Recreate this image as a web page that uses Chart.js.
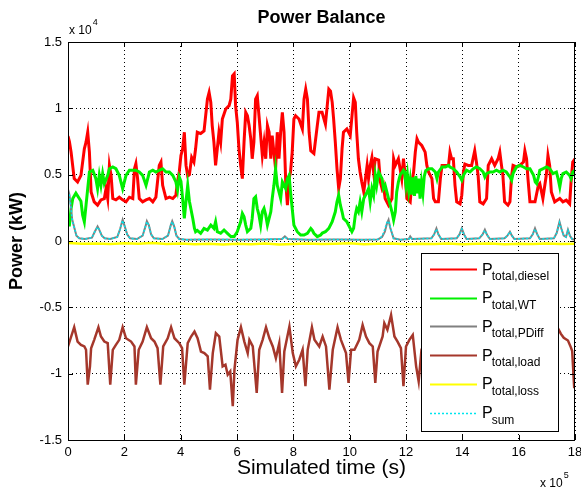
<!DOCTYPE html>
<html><head><meta charset="utf-8">
<script src="https://cdn.jsdelivr.net/npm/chart.js@4.4.1/dist/chart.umd.min.js"></script>
<style>html,body{margin:0;padding:0;background:#fff}#wrap{position:relative;width:581px;height:489px}</style>
</head><body><div id="wrap"><canvas id="c" width="581" height="489"></canvas></div>
<script>
// time in units of 1e5 s, power in kW
const dieselData = [[0,7900],[0.05,7500],[0.11,6700],[0.22,4700],[0.34,4450],[0.46,4950],[0.58,6950],[0.64,7450],[0.70,8200],[0.76,6700],[0.82,3700],[0.93,2950],[1.05,2700],[1.17,3100],[1.29,3200],[1.35,3950],[1.41,3200],[1.47,5700],[1.53,4950],[1.59,3200],[1.70,3100],[1.82,3300],[1.94,3100],[2.06,2950],[2.18,3300],[2.30,3200],[2.36,5450],[2.41,5830],[2.47,4700],[2.53,3200],[2.65,2950],[2.77,3100],[2.89,3200],[3.01,2950],[3.12,3300],[3.24,5700],[3.30,5950],[3.36,4200],[3.48,3200],[3.60,3300],[3.72,3200],[3.83,3450],[3.89,4500],[3.95,5200],[4.01,6450],[4.07,6950],[4.13,8200],[4.19,5700],[4.25,4900],[4.31,5000],[4.39,6300],[4.47,5950],[4.53,6950],[4.59,8200],[4.71,8100],[4.83,8300],[4.95,10700],[5.01,11200],[5.07,10450],[5.12,8700],[5.18,7450],[5.24,5700],[5.30,6950],[5.36,8200],[5.42,7450],[5.48,9200],[5.60,9950],[5.72,10200],[5.78,10700],[5.84,12450],[5.90,12600],[5.95,10200],[6.01,8950],[6.07,6950],[6.13,5700],[6.19,4700],[6.25,7450],[6.31,9700],[6.37,9450],[6.43,8700],[6.49,7700],[6.54,6200],[6.60,7450],[6.66,10700],[6.72,10950],[6.78,9450],[6.84,7950],[6.90,6450],[6.96,7450],[7.02,6200],[7.08,8700],[7.14,8200],[7.20,6200],[7.25,7950],[7.31,6700],[7.37,5450],[7.43,8200],[7.49,6200],[7.55,8200],[7.61,9700],[7.67,8200],[7.73,4450],[7.79,2700],[7.85,4700],[7.90,5200],[7.96,6700],[8.02,9200],[8.08,9450],[8.20,9200],[8.32,8450],[8.38,10700],[8.44,11450],[8.50,10700],[8.56,8200],[8.62,6800],[8.73,6600],[8.85,8700],[8.91,9700],[9.02,9700],[9.14,8800],[9.26,11450],[9.32,11300],[9.38,10450],[9.43,9200],[9.49,7450],[9.55,5450],[9.61,3950],[9.67,4700],[9.73,6950],[9.78,8200],[9.90,8450],[10.02,7950],[10.14,10800],[10.20,10450],[10.25,8200],[10.31,6200],[10.37,5200],[10.43,4450],[10.50,3700],[10.56,4700],[10.62,5700],[10.67,4700],[10.73,5700],[10.79,6300],[10.85,5200],[10.91,6200],[11.03,6100],[11.09,4450],[11.15,3950],[11.20,4200],[11.26,3200],[11.38,2700],[11.50,3200],[11.56,6200],[11.62,5700],[11.73,6200],[11.85,4700],[11.91,6200],[11.97,4950],[12.03,3200],[12.15,2950],[12.21,4450],[12.27,5200],[12.33,6700],[12.39,7700],[12.44,7450],[12.56,7200],[12.68,6700],[12.74,5700],[12.80,5200],[12.92,4700],[12.98,3200],[13.04,2950],[13.15,2950],[13.22,4700],[13.28,5700],[13.40,5700],[13.51,5700],[13.56,6700],[13.62,6200],[13.68,6200],[13.74,4200],[13.80,2950],[13.92,2800],[13.98,3450],[14.04,5200],[14.09,5800],[14.21,5700],[14.33,5700],[14.44,6800],[14.50,5950],[14.56,4950],[14.62,2950],[14.74,2800],[14.86,3200],[14.92,5700],[15.04,6200],[15.15,5700],[15.27,6200],[15.33,6700],[15.39,5700],[15.44,4950],[15.50,2950],[15.62,2700],[15.69,2950],[15.75,4950],[15.80,5700],[15.92,5580],[16.04,5700],[16.17,5950],[16.22,6800],[16.28,6200],[16.33,4700],[16.40,2950],[16.58,2950],[16.70,4200],[16.75,4330],[16.86,3200],[16.98,4950],[17.04,6450],[17.10,5700],[17.16,3700],[17.28,2950],[17.46,3200],[17.57,2950],[17.69,3080],[17.81,2800],[17.86,4450],[17.92,5950],[18.0,6200]];

const windData = [[0,1200],[0.05,1200],[0.11,2450],[0.17,3200],[0.28,3600],[0.40,3200],[0.46,3000],[0.52,1950],[0.58,1450],[0.64,2700],[0.70,3950],[0.76,5200],[0.88,5330],[0.99,4700],[1.05,3950],[1.11,4950],[1.17,4200],[1.23,5080],[1.29,4330],[1.41,4950],[1.47,5450],[1.59,5580],[1.70,5450],[1.82,4950],[1.94,3950],[2.06,4950],[2.18,5330],[2.30,5330],[2.41,5330],[2.53,5200],[2.65,4950],[2.77,4200],[2.89,5200],[3.01,5330],[3.12,5200],[3.24,5330],[3.36,5450],[3.48,5200],[3.60,5200],[3.72,4950],[3.83,4450],[3.89,3830],[3.95,4830],[4.01,4500],[4.07,3200],[4.13,1700],[4.19,3000],[4.25,4200],[4.31,3000],[4.43,1700],[4.49,950],[4.53,700],[4.59,800],[4.71,580],[4.83,950],[4.95,830],[5.07,1200],[5.18,950],[5.24,1450],[5.30,700],[5.42,580],[5.54,830],[5.66,580],[5.78,330],[5.90,330],[6.01,700],[6.13,1450],[6.19,2080],[6.25,1830],[6.31,1200],[6.37,700],[6.49,950],[6.54,1700],[6.60,3200],[6.66,3330],[6.72,2450],[6.78,1950],[6.84,1200],[6.90,2200],[6.96,2450],[7.02,1950],[7.08,1200],[7.14,1700],[7.20,2200],[7.25,3200],[7.31,4200],[7.37,5450],[7.43,4200],[7.49,3700],[7.55,3200],[7.61,4450],[7.67,4200],[7.73,3950],[7.79,4700],[7.85,4950],[7.90,3700],[7.96,2450],[8.02,1200],[8.14,700],[8.26,450],[8.38,450],[8.50,580],[8.62,950],[8.67,830],[8.73,580],[8.85,330],[8.97,450],[9.03,600],[9.14,700],[9.26,950],[9.38,1450],[9.49,2200],[9.55,2950],[9.61,3450],[9.67,2700],[9.73,2200],[9.78,1700],[9.90,1450],[10.02,950],[10.08,700],[10.14,950],[10.20,1950],[10.25,2450],[10.31,2200],[10.37,2950],[10.43,2200],[10.50,3200],[10.56,3450],[10.62,3700],[10.67,3950],[10.73,2950],[10.79,3950],[10.85,3450],[10.91,4950],[10.96,4200],[11.03,5200],[11.09,4950],[11.15,4700],[11.20,3950],[11.26,4200],[11.32,3700],[11.38,3200],[11.44,2700],[11.50,2200],[11.56,1580],[11.62,2200],[11.67,3700],[11.73,4450],[11.79,4950],[11.91,5330],[11.95,5200],[12.00,4200],[12.05,5000],[12.10,3800],[12.15,4600],[12.20,3500],[12.25,4800],[12.30,3400],[12.35,4900],[12.40,3600],[12.45,4700],[12.50,3200],[12.55,4400],[12.60,3600],[12.65,4900],[12.70,5300],[12.80,5450],[12.92,5450],[13.04,5200],[13.10,4700],[13.15,5200],[13.28,5580],[13.40,5580],[13.51,5700],[13.56,5580],[13.68,5450],[13.80,5200],[13.92,4830],[13.98,4580],[14.04,4950],[14.15,5330],[14.27,5200],[14.39,5450],[14.50,5580],[14.62,5450],[14.74,5200],[14.80,4830],[14.86,5080],[14.98,5200],[15.09,5200],[15.21,5330],[15.33,5200],[15.44,5330],[15.56,5200],[15.69,4830],[15.75,4580],[15.80,5080],[15.92,5580],[16.04,5700],[16.17,5580],[16.28,5450],[16.40,5450],[16.53,4950],[16.59,4450],[16.64,4330],[16.70,4830],[16.75,5330],[16.87,5450],[16.99,5580],[17.10,5450],[17.22,5080],[17.34,5200],[17.40,4700],[17.46,4080],[17.51,4700],[17.57,5080],[17.69,5200],[17.81,4950],[17.86,4700],[17.92,5200],[18.0,5330]];

const pdiffData = [[0,3900],[0.05,3500],[0.1,2600],[0.15,1600],[0.2,1200],[0.25,800],[0.3,400],[0.4,200],[0.6,150],[0.85,250],[0.95,700],[1.05,1100],[1.1,900],[1.2,400],[1.3,200],[1.5,150],[1.75,300],[1.85,900],[1.94,1600],[2.0,1200],[2.1,500],[2.2,200],[2.45,150],[2.65,400],[2.75,1100],[2.8,1500],[2.87,1200],[2.95,500],[3.05,200],[3.35,150],[3.55,400],[3.65,1200],[3.7,1500],[3.77,1100],[3.85,400],[3.95,150],[4.2,100],[5.0,120],[6.0,100],[7.0,120],[7.6,150],[7.7,350],[7.8,150],[8.5,100],[9.5,110],[10.5,100],[11.0,120],[11.15,300],[11.25,700],[11.32,1300],[11.38,1600],[11.44,1000],[11.5,600],[11.56,200],[11.8,100],[12.1,150],[12.15,350],[12.22,150],[12.9,200],[13.0,500],[13.08,950],[13.15,500],[13.25,150],[13.8,200],[13.9,500],[13.98,950],[14.06,500],[14.15,150],[14.6,200],[14.72,500],[14.8,850],[14.88,450],[14.98,150],[15.5,200],[15.6,400],[15.69,700],[15.76,400],[15.85,150],[16.4,200],[16.5,500],[16.58,950],[16.66,500],[16.75,150],[17.25,200],[17.35,600],[17.45,1450],[17.52,900],[17.6,400],[17.68,300],[17.75,850],[17.82,400],[17.9,150],[18.0,100]];

const loadData = [[0,-7950],[0.22,-6500],[0.34,-7580],[0.46,-7830],[0.58,-7950],[0.64,-8200],[0.70,-10830],[0.78,-9450],[0.82,-8080],[0.93,-7450],[1.08,-6500],[1.17,-7200],[1.29,-7580],[1.41,-7700],[1.50,-10830],[1.59,-8200],[1.70,-7830],[1.82,-7450],[1.94,-6500],[2.06,-7330],[2.24,-7580],[2.36,-7950],[2.41,-10830],[2.51,-8200],[2.65,-7580],[2.80,-6500],[2.95,-7330],[3.07,-7580],[3.18,-8080],[3.28,-10830],[3.38,-7950],[3.54,-7330],[3.66,-6500],[3.78,-7330],[3.95,-7700],[4.05,-8080],[4.13,-10830],[4.25,-7700],[4.37,-7200],[4.49,-6830],[4.60,-7330],[4.72,-8330],[4.84,-8450],[4.96,-8700],[5.04,-11200],[5.14,-8450],[5.25,-6950],[5.37,-7200],[5.49,-9450],[5.59,-9330],[5.67,-10080],[5.76,-9830],[5.85,-12450],[5.91,-9700],[6.02,-7450],[6.14,-6500],[6.26,-7580],[6.38,-8450],[6.44,-7450],[6.56,-7950],[6.70,-11450],[6.79,-8200],[6.91,-7450],[7.03,-6500],[7.15,-7330],[7.27,-7950],[7.38,-8830],[7.50,-7700],[7.60,-11450],[7.68,-8330],[7.86,-6450],[7.98,-8450],[8.09,-9450],[8.21,-8950],[8.33,-8200],[8.43,-10950],[8.51,-8200],[8.66,-6500],[8.75,-7450],[8.92,-7950],[9.04,-7200],[9.16,-7950],[9.28,-11200],[9.40,-8200],[9.57,-6500],[9.69,-7450],[9.87,-8450],[9.96,-10700],[10.05,-8200],[10.17,-8200],[10.34,-7450],[10.46,-6330],[10.58,-7200],[10.70,-7700],[10.82,-7950],[10.91,-10700],[10.99,-8330],[11.17,-7200],[11.23,-6200],[11.34,-6700],[11.47,-5580],[11.59,-7200],[11.70,-7580],[11.82,-8080],[11.91,-10950],[12.00,-7950],[12.12,-7450],[12.24,-7080],[12.36,-9450],[12.45,-10580],[12.55,-8200],[12.70,-7500],[12.85,-6500],[13.0,-7400],[13.2,-7900],[13.3,-10800],[13.4,-8100],[13.6,-7400],[13.7,-6500],[13.9,-7500],[14.1,-7900],[14.15,-10800],[14.25,-8000],[14.45,-7400],[14.55,-6500],[14.75,-7400],[14.95,-7900],[15.0,-10800],[15.1,-8000],[15.3,-7400],[15.4,-6500],[15.6,-7400],[15.8,-7900],[15.85,-10800],[15.95,-8000],[16.15,-7400],[16.25,-6500],[16.45,-7400],[16.65,-7900],[16.7,-10800],[16.8,-8000],[17.0,-7400],[17.1,-6500],[17.3,-7200],[17.4,-6600],[17.5,-7000],[17.6,-7300],[17.75,-7500],[17.85,-8000],[17.9,-8300],[17.97,-11000],[18.0,-11000]];

const lossData = [[0,-150],[0.5,-200],[1,-180],[1.5,-230],[2,-170],[2.5,-210],[3,-160],[3.5,-220],[4,-190],[4.5,-250],[5,-200],[5.5,-270],[6,-210],[6.5,-240],[7,-190],[7.5,-260],[8,-220],[8.5,-180],[9,-230],[9.5,-200],[10,-170],[10.5,-240],[11,-210],[11.5,-190],[12,-250],[12.5,-200],[13,-230],[13.5,-180],[14,-240],[14.5,-210],[15,-190],[15.5,-250],[16,-200],[16.5,-230],[17,-180],[17.5,-220],[18,-200]];

const sumData = [[0,3800],[0.05,3450],[0.1,2550],[0.15,1600],[0.2,1150],[0.25,800],[0.3,400],[0.4,200],[0.6,150],[0.85,250],[0.95,700],[1.05,1050],[1.1,900],[1.2,400],[1.3,200],[1.5,150],[1.75,300],[1.85,900],[1.94,1550],[2.0,1200],[2.1,500],[2.2,200],[2.45,150],[2.65,400],[2.75,1100],[2.8,1450],[2.87,1200],[2.95,500],[3.05,200],[3.35,150],[3.55,400],[3.65,1200],[3.7,1450],[3.77,1100],[3.85,400],[3.95,150],[4.2,100],[5.0,120],[6.0,100],[7.0,120],[7.6,150],[7.7,300],[7.8,150],[8.5,100],[9.5,110],[10.5,100],[11.0,120],[11.15,350],[11.25,900],[11.32,1400],[11.38,1500],[11.44,1100],[11.5,600],[11.56,200],[11.8,100],[12.1,150],[12.15,300],[12.22,150],[12.9,200],[13.0,500],[13.08,900],[13.15,500],[13.25,150],[13.8,200],[13.9,500],[13.98,900],[14.06,500],[14.15,150],[14.6,200],[14.72,500],[14.8,800],[14.88,450],[14.98,150],[15.5,200],[15.6,400],[15.69,700],[15.76,400],[15.85,150],[16.4,200],[16.5,500],[16.58,900],[16.66,500],[16.75,150],[17.25,200],[17.35,600],[17.45,1400],[17.52,900],[17.6,400],[17.68,300],[17.75,800],[17.82,400],[17.9,150],[18.0,100]];

const seriesNames = ['total,diesel','total,WT','total,PDiff','total,load','total,loss','sum'];
const seriesColors = ['#ff0000','#00f000','#808080','#a5372b','#ffff00','#00e5ee'];
const xTickValues = [0,2,4,6,8,10,12,14,16,18];
const yTickLabels = ['-1.5','-1','-0.5','0','0.5','1','1.5'];
const titleText = 'Power Balance';

const FONT = "'Liberation Sans', Arial, Helvetica, sans-serif";
const toXY = arr => arr.map(p => ({x: p[0], y: p[1]}));

const seriesList = [dieselData, windData, pdiffData, loadData, lossData, sumData];
const widths = [3, 3, 2, 2.5, 2.5, 1.5];
const orders = [5, 4, 3, 2, 1, 0];
const dashes = [[], [], [], [], [], [2, 2]];

const datasets = seriesList.map((d, i) => ({
  label: 'P' + seriesNames[i],
  data: toXY(d),
  borderColor: seriesColors[i],
  backgroundColor: seriesColors[i],
  borderWidth: widths[i],
  borderDash: dashes[i],
  pointRadius: 0,
  tension: 0,
  fill: false,
  order: orders[i]
}));

const framePlugin = {
  id: 'frame',
  afterDraw(chart) {
    const {ctx, chartArea: a, scales} = chart;
    ctx.save();
    // box
    ctx.strokeStyle = '#000'; ctx.lineWidth = 1; ctx.setLineDash([]);
    ctx.strokeRect(Math.round(a.left) + 0.5, Math.round(a.top) + 0.5, Math.round(a.right - a.left) - 1, Math.round(a.bottom - a.top));
    // inside ticks
    const tl = 5;
    ctx.beginPath();
    xTickValues.forEach(v => {
      const x = Math.round(scales.x.getPixelForValue(v)) + 0.5;
      ctx.moveTo(x, a.bottom); ctx.lineTo(x, a.bottom - tl);
      ctx.moveTo(x, a.top); ctx.lineTo(x, a.top + tl);
    });
    yTickLabels.forEach(l => {
      const y = Math.round(scales.y.getPixelForValue(parseFloat(l) * 10000)) + 0.5;
      ctx.moveTo(a.left, y); ctx.lineTo(a.left + tl, y);
      ctx.moveTo(a.right, y); ctx.lineTo(a.right - tl, y);
    });
    ctx.stroke();
    // title
    ctx.fillStyle = '#000'; ctx.textAlign = 'center'; ctx.textBaseline = 'middle';
    ctx.font = 'bold 18px ' + FONT;
    ctx.fillText(titleText, (a.left + a.right) / 2, 18);
    // exponent labels
    ctx.textBaseline = 'alphabetic'; ctx.textAlign = 'left';
    ctx.font = '12px ' + FONT;
    ctx.fillText('x 10', a.left + 1, a.top - 8);
    let w = ctx.measureText('x 10').width;
    ctx.font = '9px ' + FONT;
    ctx.fillText('4', a.left + 1 + w + 1, a.top - 17);
    ctx.font = '12px ' + FONT;
    ctx.fillText('x 10', a.right - 35, chart.height - 2);
    w = ctx.measureText('x 10').width;
    ctx.font = '9px ' + FONT;
    ctx.fillText('5', a.right - 35 + w + 1, chart.height - 11);
    // legend
    const lx = a.right - 154, ly = a.bottom - 187, lw = 137, lh = 178;
    ctx.fillStyle = '#fff';
    ctx.fillRect(lx, ly, lw, lh);
    ctx.strokeStyle = '#000'; ctx.lineWidth = 1;
    ctx.strokeRect(lx + 0.5, ly + 0.5, lw, lh);
    seriesNames.forEach((name, i) => {
      const cy = ly + 16 + i * 28.7;
      ctx.beginPath();
      ctx.strokeStyle = seriesColors[i];
      ctx.lineWidth = i === 5 ? 1.5 : 2;
      ctx.setLineDash(dashes[i]);
      ctx.moveTo(lx + 9, Math.round(cy) + 0.5);
      ctx.lineTo(lx + 56, Math.round(cy) + 0.5);
      ctx.stroke();
      ctx.setLineDash([]);
      ctx.fillStyle = '#000';
      ctx.font = '16px ' + FONT;
      ctx.fillText('P', lx + 61, cy + 5.5);
      const pw = ctx.measureText('P').width;
      ctx.font = '12px ' + FONT;
      ctx.fillText(name, lx + 61 + pw - 1, cy + 11);
    });
    ctx.restore();
  }
};

new Chart(document.getElementById('c'), {
  type: 'line',
  data: { datasets },
  options: {
    responsive: false,
    animation: false,
    devicePixelRatio: 1,
    layout: { padding: { left: 0, right: 0, top: 42, bottom: 0 } },
    plugins: {
      legend: { display: false },
      tooltip: { enabled: false },
      title: { display: false }
    },
    scales: {
      x: {
        type: 'linear', min: 0, max: 18,
        afterBuildTicks(s) { s.ticks = xTickValues.map(v => ({value: v})); },
        ticks: { color: '#000', font: { family: FONT, size: 13 }, padding: 5, maxRotation: 0, autoSkip: false, callback: v => String(v) },
        grid: { color: '#000', drawTicks: false, lineWidth: 1 },
        border: { display: false, dash: [1, 3] },
        title: { display: true, text: 'Simulated time (s)', color: '#000', font: { family: FONT, size: 21 }, padding: { top: 0, bottom: 8 } },
        afterFit(s) { s.height = 49; s.paddingLeft = 0; s.paddingRight = 6; }
      },
      y: {
        type: 'linear', min: -15000, max: 15000,
        afterBuildTicks(s) { s.ticks = yTickLabels.map(l => ({value: parseFloat(l) * 10000})); },
        ticks: { color: '#000', font: { family: FONT, size: 13 }, padding: 6, callback: (v) => yTickLabels.find(l => parseFloat(l) * 10000 === v) },
        grid: { color: '#000', drawTicks: false, lineWidth: 1 },
        border: { display: false, dash: [1, 3] },
        title: { display: true, text: 'Power (kW)', color: '#000', font: { family: FONT, size: 18, weight: 'bold' }, padding: { top: 6, bottom: 0 } },
        afterFit(s) { s.width = 68; s.paddingTop = 0; s.paddingBottom = 0; }
      }
    }
  },
  plugins: [framePlugin]
});
</script></body></html>
